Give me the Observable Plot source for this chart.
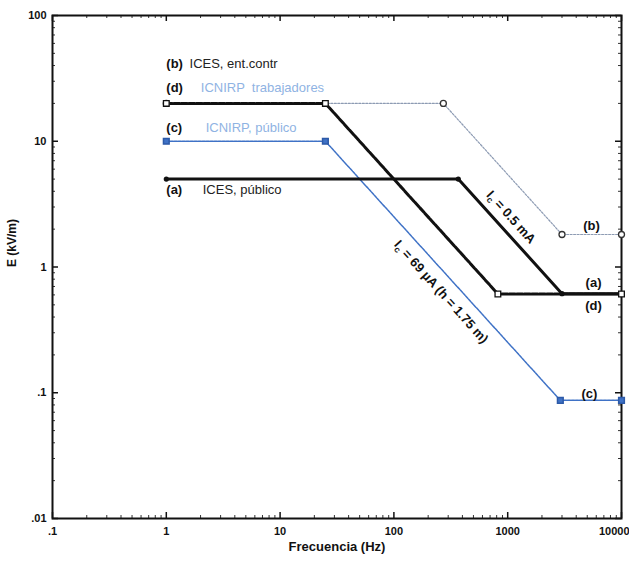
<!DOCTYPE html>
<html><head><meta charset="utf-8">
<script src="https://cdn.jsdelivr.net/npm/d3@7"></script>
<script src="https://cdn.jsdelivr.net/npm/@observablehq/plot@0.6"></script>
<style>body{margin:0;background:#fff} svg{overflow:visible}</style>
</head><body><div id="chart"></div>
<script>
// (a) ICES, público
const freqA = [1, 368, 3000, 10000];
const eA = [5, 5, 0.614, 0.614];
// (b) ICES, ent.contr
const freqB = [1, 272, 3000, 10000];
const eB = [20, 20, 1.813, 1.813];
// (c) ICNIRP, público
const freqC = [1, 25, 2900, 10000];
const eC = [10, 10, 0.087, 0.087];
// (d) ICNIRP trabajadores
const freqD = [1, 25, 820, 10000];
const eD = [20, 20, 0.61, 0.61];

const xTicks = [0.1, 1, 10, 100, 1000, 10000];
const xTickLabels = [".1", "1", "10", "100", "1000", "10000"];
const yTicks = [0.01, 0.1, 1, 10, 100];
const yTickLabels = [".01", ".1", "1", "10", "100"];

const legendTags = ["(b)", "(d)", "(c)", "(a)"];
const legendNames = ["ICES, ent.contr", "ICNIRP  trabajadores", "ICNIRP, público", "ICES, público"];
const legendTagX = [1, 1, 1, 1];
const legendNameX = [1.6, 2.01, 2.22, 2.09];
const legendY = [41.6, 26.4, 12.7, 4.08];
const legendNameColors = ["#222", "#8fb3e3", "#8fb3e3", "#222"];

const endTags = ["(b)", "(a)", "(d)", "(c)"];
const endX = [5450, 5680, 5680, 5220];
const endY = [2.11, 0.746, 0.49, 0.0975];

const slopeNotes = ["Ic = 0.5 mA", "Ic = 69 µA (h = 1.75 m)"];
const slopeX = [1070, 260];
const slopeY = [2.49, 0.634];

const xLabel = "Frecuencia (Hz)";
const yLabel = "E (kV/m)";

const tbl = (fs, es) => fs.map((f, i) => ({f, e: es[i]}));
const A = tbl(freqA, eA), B = tbl(freqB, eB), C = tbl(freqC, eC), D = tbl(freqD, eD);

const minor = (lo, hi) => {
  const out = [];
  for (let p = lo; p < hi; p++) for (let k = 2; k <= 9; k++) out.push(k * Math.pow(10, p));
  return out;
};
const xMinor = minor(-1, 4);
const yMinor = minor(-2, 2);

const W = 629, H = 562, mL = 52, mR = 8, mT = 15, mB = 44;
const pw = W - mL - mR, ph = H - mT - mB;

const blue = "#3f72c6";
const legend = legendTags.map((t, i) => ({t, n: legendNames[i], tx: legendTagX[i], nx: legendNameX[i], y: legendY[i], c: legendNameColors[i]}));
const ends = endTags.map((t, i) => ({t, x: endX[i], y: endY[i]}));
const notes = slopeNotes.map((t, i) => ({t, x: slopeX[i], y: slopeY[i]}));
const lastX = xTicks.slice(-1);
const restX = xTicks.slice(0, -1);
const fmtX = d => xTickLabels[xTicks.indexOf(d)];

const chart = Plot.plot({
  width: W, height: H,
  marginLeft: mL, marginRight: mR, marginTop: mT, marginBottom: mB,
  x: {type: "log", domain: [0.1, 10000]},
  y: {type: "log", domain: [0.01, 100]},
  style: {fontFamily: "'Liberation Sans', Arial, sans-serif", fontSize: "11px", background: "white", color: "#111"},
  marks: [
    Plot.axisX({ticks: restX, tickSize: 0, tickPadding: 9, tickFormat: fmtX, label: null, fontWeight: "bold"}),
    Plot.axisX({ticks: lastX, tickSize: 0, tickPadding: 9, tickFormat: fmtX, label: null, fontWeight: "bold", textAnchor: "end", dx: 8}),
    Plot.axisY({ticks: yTicks, tickSize: 0, tickPadding: 6, tickFormat: d => yTickLabels[yTicks.indexOf(d)], label: null, fontWeight: "bold"}),
    // inward major ticks
    Plot.ruleX(xTicks, {x: d => d, insetTop: ph - 6, stroke: "#111", strokeWidth: 1.5}),
    Plot.ruleX(xTicks, {x: d => d, insetBottom: ph - 6, stroke: "#111", strokeWidth: 1.5}),
    Plot.ruleY(yTicks, {y: d => d, insetRight: pw - 6, stroke: "#111", strokeWidth: 1.5}),
    Plot.ruleY(yTicks, {y: d => d, insetLeft: pw - 6, stroke: "#111", strokeWidth: 1.5}),
    // inward minor ticks
    Plot.ruleX(xMinor, {x: d => d, insetTop: ph - 3, stroke: "#333"}),
    Plot.ruleX(xMinor, {x: d => d, insetBottom: ph - 3, stroke: "#333"}),
    Plot.ruleY(yMinor, {y: d => d, insetRight: pw - 3, stroke: "#333"}),
    Plot.ruleY(yMinor, {y: d => d, insetLeft: pw - 3, stroke: "#333"}),
    Plot.frame({stroke: "#111", strokeWidth: 2}),
    // series lines
    Plot.line(B, {x: "f", y: "e", stroke: "#8d9bb3", strokeWidth: 1.2, strokeDasharray: "2,1.5"}),
    Plot.line(C, {x: "f", y: "e", stroke: blue, strokeWidth: 1.5, strokeDasharray: "3,1"}),
    Plot.line(A, {x: "f", y: "e", stroke: "#111", strokeWidth: 3}),
    Plot.line(D, {x: "f", y: "e", stroke: "#111", strokeWidth: 3, strokeDasharray: "6,1.5"}),
    // markers
    Plot.dot(B, {x: "f", y: "e", symbol: "circle", r: 3, stroke: "#333", fill: "white", strokeWidth: 1.3}),
    Plot.dot(C, {x: "f", y: "e", symbol: "square", r: 3.2, fill: blue, stroke: "#2d5aa8"}),
    Plot.dot(A, {x: "f", y: "e", symbol: "circle", r: 2.6, fill: "#111"}),
    Plot.dot(D, {x: "f", y: "e", symbol: "square", r: 3.2, stroke: "#111", fill: "white", strokeWidth: 1.3}),
    // legend texts
    Plot.text(legend, {x: "tx", y: "y", text: "t", textAnchor: "start", fontWeight: "bold", fontSize: 13, fill: "#111"}),
    Plot.text(legend, {x: "nx", y: "y", text: "n", textAnchor: "start", fontSize: 13, fill: "c"}),
    // end tags
    Plot.text(ends, {x: "x", y: "y", text: "t", fontWeight: "bold", fontSize: 13, fill: "#111"}),
    // slope notes
    Plot.text(notes, {x: "x", y: "y", text: "t", rotate: 48, fontWeight: "bold", fontSize: 13, fill: "#111"}),
    // axis titles
    Plot.text([yLabel], {frameAnchor: "left", text: d => d, rotate: -90, dx: -40, fontWeight: "bold", fontSize: 12, fill: "#111"}),
    Plot.text([xLabel], {frameAnchor: "bottom", text: d => d, dy: 32, fontWeight: "bold", fontSize: 13, fill: "#111"})
  ]
});

// subscript c in "Ic"
d3.select(chart).selectAll("text").each(function () {
  const s = this.textContent;
  if (s.startsWith("Ic ")) {
    const el = d3.select(this);
    el.text(null);
    el.append("tspan").text("I");
    el.append("tspan").attr("font-size", "9").attr("dy", "3").text("c");
    el.append("tspan").attr("dy", "-3").text(s.slice(2));
  }
});

document.getElementById("chart").append(chart);
</script>
</body></html>
